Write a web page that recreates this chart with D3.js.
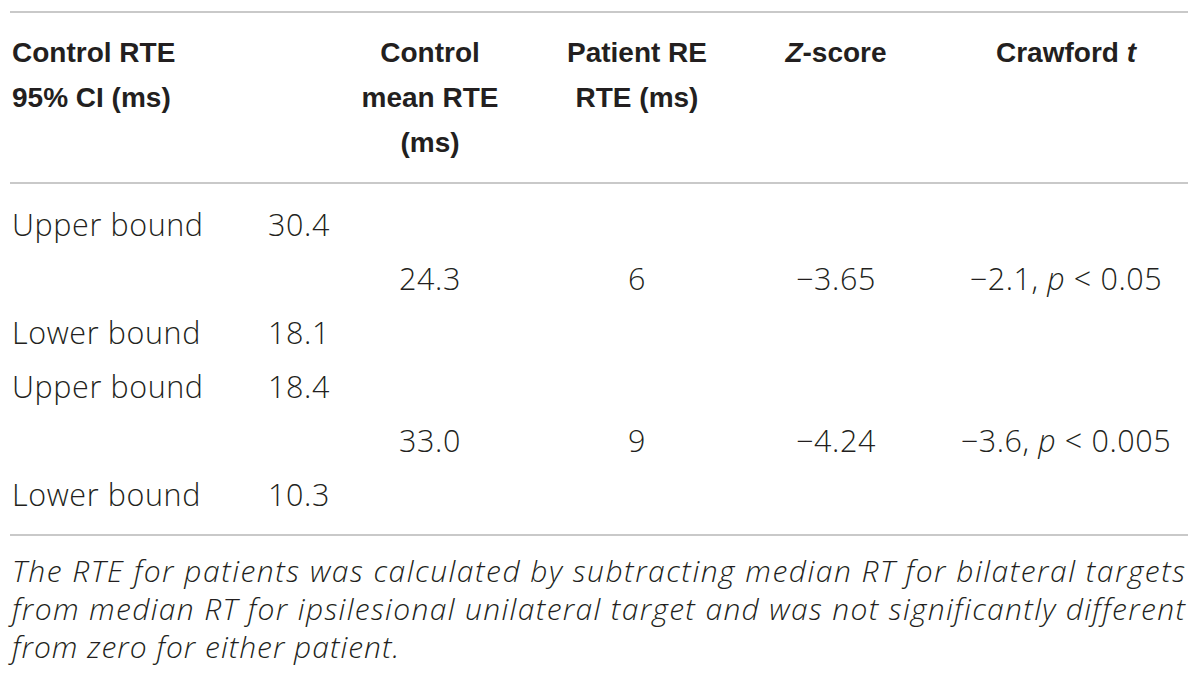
<!DOCTYPE html>
<html>
<head>
<meta charset="utf-8">
<script src="https://cdn.jsdelivr.net/npm/d3@7"></script>
<style>
  body { margin: 0; background: #fff; }
  svg { display: block; }
  .head { font-family: "Liberation Sans", Arial, sans-serif; font-weight: bold; font-size: 28px; fill: #231f20; }
  .cell { font-family: "Open Sans", sans-serif; font-weight: 300; font-size: 30.5px; letter-spacing: 0.6px; fill: #231f20; }
  .note { font-family: "Open Sans", sans-serif; font-weight: 300; font-style: italic; font-size: 30px; letter-spacing: 1px; fill: #231f20; }
</style>
</head>
<body>
<svg id="table" width="1200" height="682"></svg>
<script>
const WIDTH = 1200;
const HEIGHT = 682;

// header text, one array per column, segments marked with * are italic
const headerLines = [
  ["Control RTE", "95% CI (ms)"],
  ["Control", "mean RTE", "(ms)"],
  ["Patient RE", "RTE (ms)"],
  ["*Z*-score"],
  ["Crawford *t*"]
];
const headerKeys = ["ci", "mean", "patient", "z", "crawford"];

// body rows
const boundLabels = ["Upper bound", "Lower bound", "Upper bound", "Lower bound"];
const ciValues = ["30.4", "18.1", "18.4", "10.3"];
const controlMean = ["24.3", "33.0"];
const patientRte = ["6", "9"];
const zScores = ["\u22123.65", "\u22124.24"];
const crawfordT = ["\u22122.1", "\u22123.6"];
const pValues = ["0.05", "0.005"];

const footnote = [
  "The RTE for patients was calculated by subtracting median RT for bilateral targets",
  "from median RT for ipsilesional unilateral target and was not significantly different",
  "from zero for either patient."
];

const svg = d3.select("#table");
svg.append("rect").attr("width", WIDTH).attr("height", HEIGHT).attr("fill", "#fff");

// column x positions (left edge for first two, centre for the rest)
const xCol = d3.scaleOrdinal()
  .domain(["label", "ci", "mean", "patient", "z", "crawford"])
  .range([12, 268, 430, 637, 836, 1066]);

// six body rows: bound, patient, bound, bound, patient, bound
const yRow = d3.scalePoint().domain(d3.range(6)).range([225, 495]);
const yHead = d3.scalePoint().domain(d3.range(3)).range([52, 142]);
const yNote = d3.scalePoint().domain(d3.range(3)).range([571, 647]);

// rules
const rules = [12, 183, 535];
svg.selectAll("line.rule")
   .data(rules)
   .join("line")
   .attr("class", "rule")
   .attr("x1", 10).attr("x2", 1188)
   .attr("y1", d => d).attr("y2", d => d)
   .attr("stroke", "#c9c9c9")
   .attr("stroke-width", 2);

// helper to write text with *italic* pieces
function addRich(sel, str) {
  str.split("*").forEach((part, i) => {
    if (part === "") return;
    sel.append("tspan")
       .attr("font-style", i % 2 ? "italic" : null)
       .text(part);
  });
}

// header
headerLines.forEach((lines, c) => {
  const key = headerKeys[c];
  const x = key === "ci" ? xCol("label") : xCol(key);
  lines.forEach((ln, r) => {
    const t = svg.append("text")
      .attr("class", "head")
      .attr("x", x)
      .attr("y", yHead(r))
      .attr("dy", "0.36em")
      .attr("text-anchor", key === "ci" ? "start" : "middle");
    addRich(t, ln);
  });
});

// bound rows
const boundRows = [0, 2, 3, 5];
svg.selectAll("text.bound")
   .data(boundLabels)
   .join("text")
   .attr("class", "cell bound")
   .attr("x", xCol("label"))
   .attr("y", (d, i) => yRow(boundRows[i]))
   .attr("dy", "0.36em")
   .text(d => d);

svg.selectAll("text.ci")
   .data(ciValues)
   .join("text")
   .attr("class", "cell ci")
   .attr("x", xCol("ci"))
   .attr("y", (d, i) => yRow(boundRows[i]))
   .attr("dy", "0.36em")
   .text(d => d);

// patient rows
const patientRows = [1, 4];
const patientData = controlMean.map((m, i) => ({
  row: patientRows[i],
  mean: m,
  patient: patientRte[i],
  z: zScores[i],
  crawford: crawfordT[i] + ", *p* < " + pValues[i]
}));

patientData.forEach(d => {
  ["mean", "patient", "z", "crawford"].forEach(key => {
    const t = svg.append("text")
      .attr("class", "cell")
      .attr("x", xCol(key))
      .attr("y", yRow(d.row))
      .attr("dy", "0.36em")
      .attr("text-anchor", "middle");
    addRich(t, d[key]);
  });
});

// footnote, first two lines justified
svg.selectAll("text.note")
   .data(footnote)
   .join("text")
   .attr("class", "note")
   .attr("x", 12)
   .attr("y", (d, i) => yNote(i))
   .attr("dy", "0.36em")
   .attr("textLength", (d, i) => i < footnote.length - 1 ? 1174 : null)
   .attr("lengthAdjust", "spacing")
   .text(d => d);
</script>
</body>
</html>
